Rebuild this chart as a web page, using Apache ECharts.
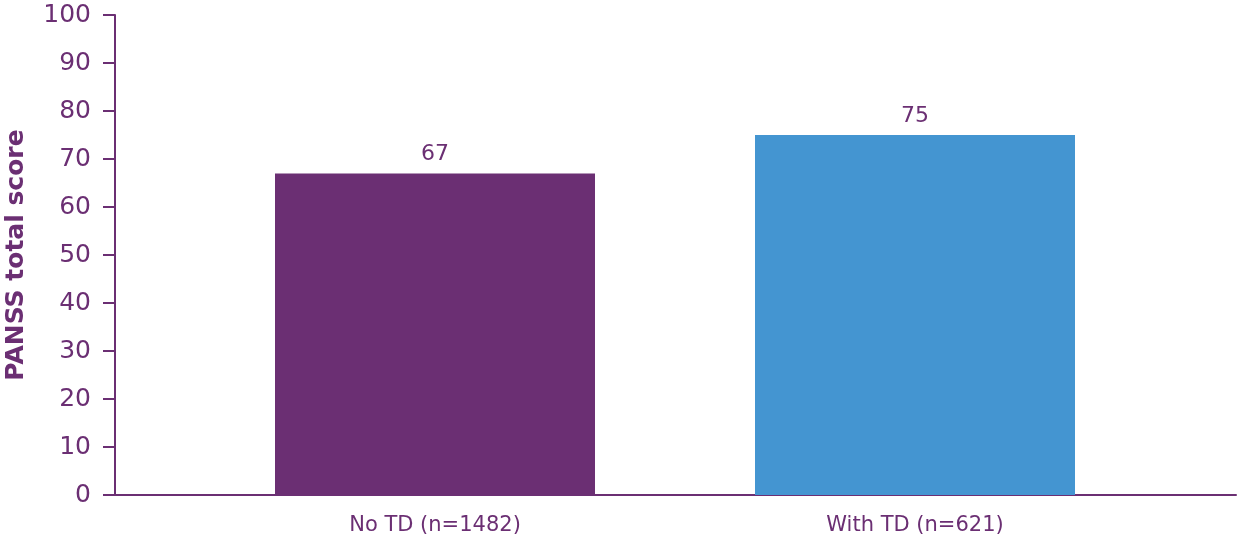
<!DOCTYPE html>
<html><head><meta charset="utf-8">
<script src="https://cdn.jsdelivr.net/npm/echarts@6/dist/echarts.min.js"></script>
<style>html,body{margin:0;padding:0;background:#fff}#c{width:1237px;height:540px}</style>
</head><body><div id="c"></div>
<script>
const categories = ['No TD (n=1482)', 'With TD (n=621)'];
const values = [67, 75];
const barColors = ['#6B2F73', '#4495D1'];
const yTicks = [0, 10, 20, 30, 40, 50, 60, 70, 80, 90, 100];

const purple = '#6B2F73';
const font = 'DejaVu Sans';
const chart = echarts.init(document.getElementById('c'));
chart.setOption({
  animation: false,
  grid: [
    {left: 195, right: 82, top: 15, bottom: 45, outerBoundsMode: 'none', containLabel: false},
    {left: 115, right: 1, top: 15, bottom: 45, outerBoundsMode: 'none', containLabel: false}
  ],
  xAxis: [
    {type: 'category', gridIndex: 0, data: categories,
     axisLine: {show: false}, axisTick: {show: false},
     axisLabel: {color: purple, fontFamily: font, fontSize: 21, margin: 20}},
    {type: 'value', gridIndex: 1, min: 0, max: 1,
     axisLine: {show: true, lineStyle: {color: purple, width: 2}},
     axisTick: {show: false}, axisLabel: {show: false}, splitLine: {show: false}}
  ],
  yAxis: [
    {type: 'value', gridIndex: 0, min: yTicks[0], max: yTicks[yTicks.length-1], interval: 10, offset: 80,
     name: 'PANSS total score', nameLocation: 'middle', nameGap: 86,
     nameTextStyle: {color: purple, fontFamily: font, fontSize: 25, fontWeight: 'bold'},
     axisLine: {show: true, lineStyle: {color: purple, width: 2}},
     axisTick: {show: true, length: 12, lineStyle: {color: purple, width: 2}},
     axisLabel: {color: purple, fontFamily: font, fontSize: 25, margin: 24},
     splitLine: {show: false}},
    {type: 'value', gridIndex: 1, show: false, min: 0, max: 1}
  ],
  series: [{
    type: 'bar', xAxisIndex: 0, yAxisIndex: 0, barWidth: 320,
    data: values.map((v, i) => ({value: v, itemStyle: {color: barColors[i]}})),
    label: {show: true, position: 'top', distance: 8, color: purple, fontFamily: font, fontSize: 22}
  }]
});
</script></body></html>
